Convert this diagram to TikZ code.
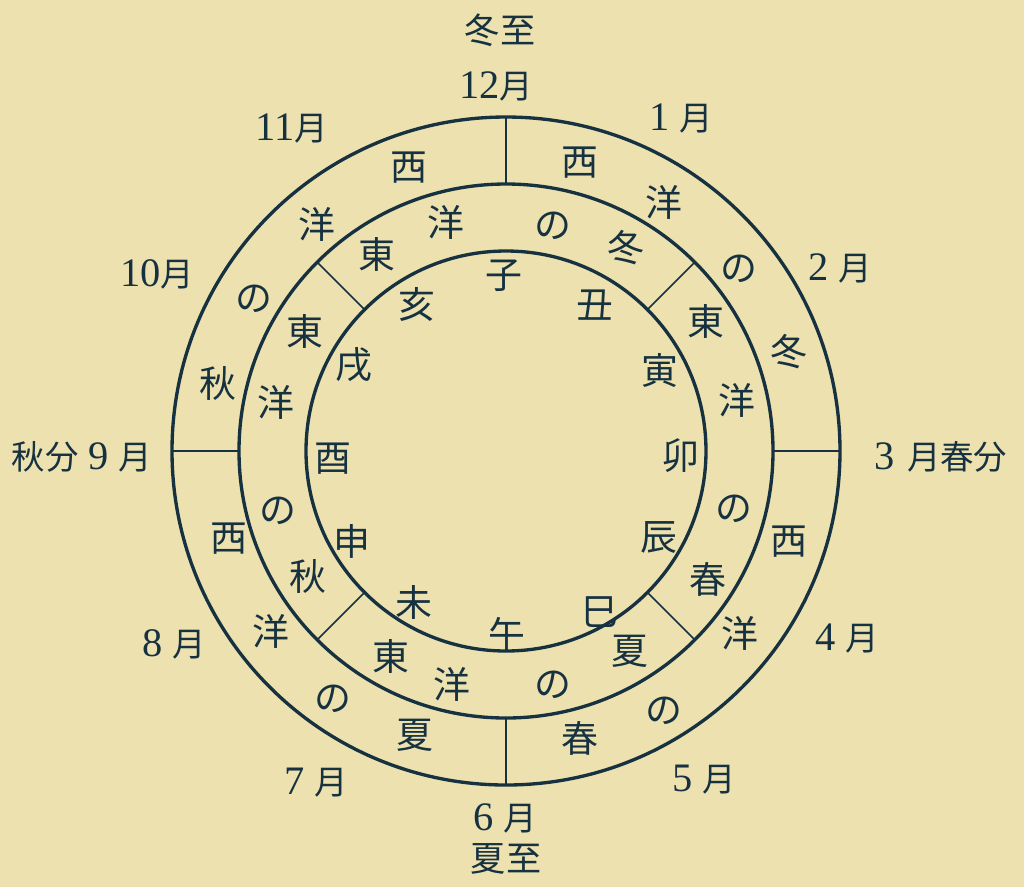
\documentclass[tikz,border=0pt]{standalone}
\usepackage{fontspec}
\setmainfont{Liberation Serif}
\newfontfamily\jp{Noto Sans CJK JP}
\newcommand\jpt[1]{{\jp\fontsize{9.5}{11}\selectfont #1}}
\definecolor{paper}{RGB}{238,225,176}
\definecolor{ink}{RGB}{22,50,64}
\begin{document}
\begin{tikzpicture}[x=0.01cm,y=-0.01cm,
  ring/.style={draw=ink,line width=0.95pt},
  tickline/.style={draw=ink,line width=0.45pt},
  ch/.style={font=\jp\fontsize{10.5}{12}\selectfont,text=ink,inner sep=0pt,text height=0.83em,text depth=0.07em},
  lab/.style={font=\fontsize{11.5}{12}\selectfont,text=ink,inner sep=0pt,text height=7.9pt,text depth=0.7pt},
  big/.style={font=\jp\fontsize{10}{12}\selectfont,text=ink,inner sep=0pt,text height=0.83em,text depth=0.07em}]
\fill[paper] (0,0) rectangle (1024,887);
\coordinate (O) at (506,451);
% circles
\draw[ring] (O) circle[radius=334];
\draw[ring] (O) circle[radius=267];
\draw[ring] (O) circle[radius=200];
% cardinal ticks
\draw[tickline] (506,184) -- (506,117);
\draw[tickline] (506,718) -- (506,785);
\draw[tickline] (172,451) -- (239,451);
\draw[tickline] (773,451) -- (840,451);
% diagonal ticks
\draw[tickline] (647.4,309.6) -- (694.8,262.2);
\draw[tickline] (364.6,309.6) -- (317.2,262.2);
\draw[tickline] (364.6,592.4) -- (317.2,639.8);
\draw[tickline] (647.4,592.4) -- (694.8,639.8);
% outer ring
\node[ch] (o1) at (409,167) {西};
\node[ch] (o2) at (317,225) {洋};
\node[ch] (o3) at (254,298) {の};
\node[ch] (o4) at (218,384) {秋};
\node[ch] (o5) at (580,162) {西};
\node[ch] (o6) at (664,203) {洋};
\node[ch] (o7) at (739,268) {の};
\node[ch] (o8) at (789,352) {冬};
\node[ch] (o9) at (789,541) {西};
\node[ch] (o10) at (740,634) {洋};
\node[ch] (o11) at (664,710) {の};
\node[ch] (o12) at (580,739) {春};
\node[ch] (o13) at (229,538) {西};
\node[ch] (o14) at (271,632) {洋};
\node[ch] (o15) at (333,698) {の};
\node[ch] (o16) at (415,735) {夏};
% middle ring
\node[ch] (m1) at (377,255) {東};
\node[ch] (m2) at (446,223) {洋};
\node[ch] (m3) at (553,225) {の};
\node[ch] (m4) at (626,248) {冬};
\node[ch] (m5) at (706,322) {東};
\node[ch] (m6) at (737,401) {洋};
\node[ch] (m7) at (734,508) {の};
\node[ch] (m8) at (708,580) {春};
\node[ch] (m9) at (630,651) {夏};
\node[ch] (m10) at (553,684) {の};
\node[ch] (m11) at (452,685) {洋};
\node[ch] (m12) at (391,657) {東};
\node[ch] (m13) at (305,332) {東};
\node[ch] (m14) at (276,403) {洋};
\node[ch] (m15) at (278,510) {の};
\node[ch] (m16) at (308,577) {秋};
% zodiac
\node[ch] (z1) at (504,275) {子};
\node[ch] (z2) at (595,305) {丑};
\node[ch] (z3) at (660,371) {寅};
\node[ch] (z4) at (681,456) {卯};
\node[ch] (z5) at (659,537) {辰};
\node[ch] (z6) at (600,612) {巳};
\node[ch] (z7) at (507,635) {午};
\node[ch] (z8) at (414,603) {未};
\node[ch] (z9) at (352,542) {申};
\node[ch] (z10) at (333,458) {酉};
\node[ch] (z11) at (354,365) {戌};
\node[ch] (z12) at (417,305) {亥};
% outside labels
\node[big] (dongzhi) at (500,30) {冬至};
\node[big] (xiazhi) at (506,858) {夏至};
\node[lab] (L12) at (496,86) {12\jpt{月}};
\node[lab] (L1) at (681,118) {1\kern0.25em\jpt{月}};
\node[lab] (L2) at (840,268) {2\kern0.25em\jpt{月}};
\node[lab] (L3) at (941,457) {3\kern0.3em\jpt{月春分}};
\node[lab] (L4) at (847,638) {4\kern0.25em\jpt{月}};
\node[lab] (L5) at (704,779) {5\kern0.25em\jpt{月}};
\node[lab] (L6) at (505,818) {6\kern0.25em\jpt{月}};
\node[lab] (L7) at (316,782) {7\kern0.25em\jpt{月}};
\node[lab] (L8) at (174,644) {8\kern0.25em\jpt{月}};
\node[lab] (L9) at (82,457) {\jpt{秋分}\kern0.25em 9\kern0.25em\jpt{月}};
\node[lab] (L10) at (157,274) {10\jpt{月}};
\node[lab] (L11) at (292,128) {11\jpt{月}};
\end{tikzpicture}
\end{document}
